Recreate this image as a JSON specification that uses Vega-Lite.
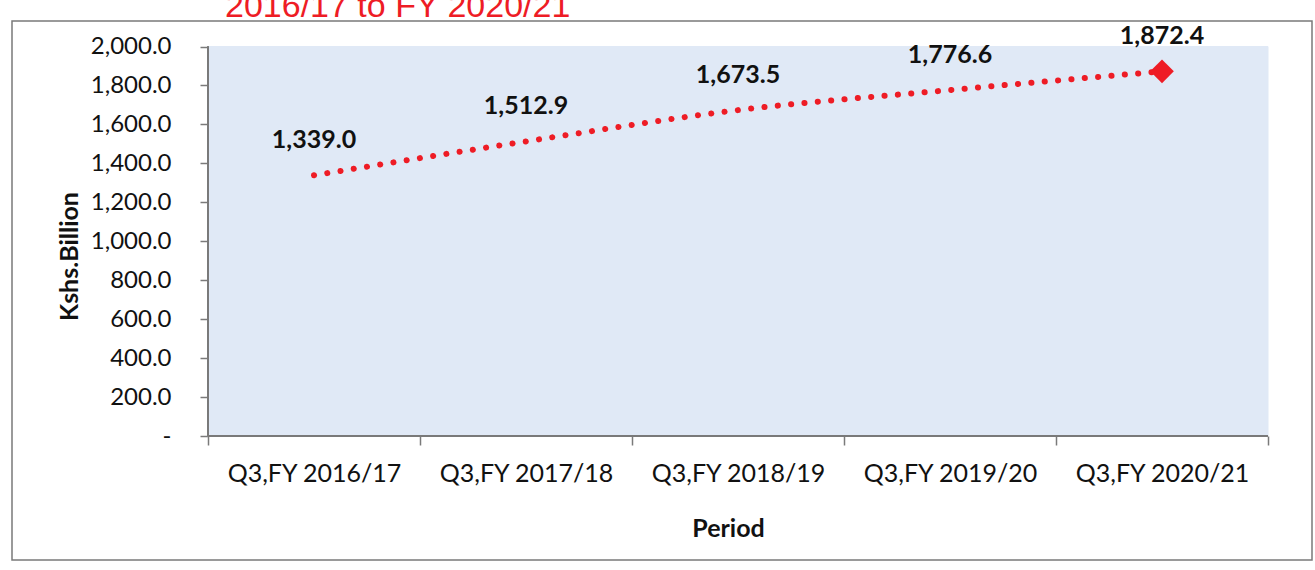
{
  "$schema": "https://vega.github.io/schema/vega-lite/v6.json",
  "width": 1300,
  "height": 539,
  "autosize": {"type": "none"},
  "padding": {"left": 12, "top": 21, "right": 3, "bottom": 10},
  "background": "white",
  "title": {
    "text": "2016/17 to FY 2020/21",
    "anchor": "start",
    "frame": "group",
    "dx": 213,
    "offset": -30,
    "baseline": "alphabetic",
    "color": "#ee1c25",
    "font": "Liberation Sans",
    "fontSize": 34,
    "fontWeight": "normal"
  },
  "config": {
    "view": {"stroke": "#7a7a7a", "strokeWidth": 1.5},
    "font": "Lato"
  },
  "data": {
    "values": [
      {"period": "Q3,FY 2016/17", "value": 1339.0},
      {"period": "Q3,FY 2017/18", "value": 1512.9},
      {"period": "Q3,FY 2018/19", "value": 1673.5},
      {"period": "Q3,FY 2019/20", "value": 1776.6},
      {"period": "Q3,FY 2020/21", "value": 1872.4}
    ]
  },
  "encoding": {
    "x": {
      "field": "period",
      "type": "nominal",
      "sort": null,
      "scale": {
        "type": "band",
        "domain": ["Q3,FY 2016/17", "Q3,FY 2017/18", "Q3,FY 2018/19", "Q3,FY 2019/20", "Q3,FY 2020/21"],
        "paddingInner": 0,
        "paddingOuter": 0.566,
        "align": 0.8167
      },
      "axis": {
        "title": "Period",
        "titleFont": "Lato",
        "titleFontSize": 25,
        "titleFontWeight": "bold",
        "titleColor": "#111111",
        "titleX": 716,
        "titleY": 92,
        "titleBaseline": "middle",
        "labelFont": "Lato",
        "labelFontSize": 25,
        "labelColor": "#111111",
        "labelAngle": 0,
        "labelPadding": 16,
        "tickBand": "extent",
        "tickSize": 9,
        "tickColor": "#7a7a7a",
        "tickWidth": 1.5,
        "domain": false,
        "grid": false,
        "offset": -124
      }
    },
    "y": {
      "field": "value",
      "type": "quantitative",
      "scale": {"domain": [-636, 2131], "nice": false, "zero": false},
      "axis": {
        "title": "Kshs.Billion",
        "titleFont": "Lato",
        "titleFontSize": 25,
        "titleFontWeight": "bold",
        "titleColor": "#111111",
        "titleY": 235,
        "titlePadding": 8,
        "values": [0, 200, 400, 600, 800, 1000, 1200, 1400, 1600, 1800, 2000],
        "labelExpr": "datum.value === 0 ? '-\u00a0\u00a0' : format(datum.value, ',.1f')",
        "labelFont": "Lato",
        "labelFontSize": 24,
        "labelColor": "#111111",
        "labelPadding": 29,
        "tickSize": 8,
        "tickColor": "#7a7a7a",
        "tickWidth": 1.5,
        "domain": false,
        "grid": false,
        "offset": -196
      }
    }
  },
  "layer": [
    {
      "mark": {"type": "bar", "color": "#e0e9f6", "stroke": "#e0e9f6", "strokeWidth": 1},
      "encoding": {
        "y": {"datum": 2000, "type": "quantitative"},
        "y2": {"datum": 0}
      }
    },
    {
      "mark": {"type": "rule", "color": "#7a7a7a", "strokeWidth": 1.5},
      "encoding": {
        "x": {"datum": "Q3,FY 2016/17", "type": "nominal", "bandPosition": 0},
        "y": {"datum": 0, "type": "quantitative"},
        "y2": {"datum": 2000}
      }
    },
    {
      "mark": {"type": "rule", "color": "#7a7a7a", "strokeWidth": 1.5},
      "encoding": {
        "x": {"datum": "Q3,FY 2016/17", "type": "nominal", "bandPosition": 0},
        "x2": {"datum": "Q3,FY 2020/21", "bandPosition": 1},
        "y": {"datum": 0, "type": "quantitative"}
      }
    },
    {
      "mark": {
        "type": "line",
        "color": "#ee1c25",
        "strokeWidth": 6,
        "strokeCap": "round",
        "strokeDash": [0.1, 13.3],
        "interpolate": "monotone"
      }
    },
    {
      "transform": [{"filter": "datum.period === 'Q3,FY 2020/21'"}],
      "mark": {"type": "point", "shape": "diamond", "filled": true, "size": 560, "color": "#ee1c25", "opacity": 1}
    },
    {
      "mark": {"type": "text", "font": "Lato", "fontSize": 25, "fontWeight": "bold", "dy": -35, "baseline": "middle", "color": "#111111"},
      "encoding": {
        "text": {"field": "value", "type": "quantitative", "format": ",.1f"}
      }
    }
  ]
}
